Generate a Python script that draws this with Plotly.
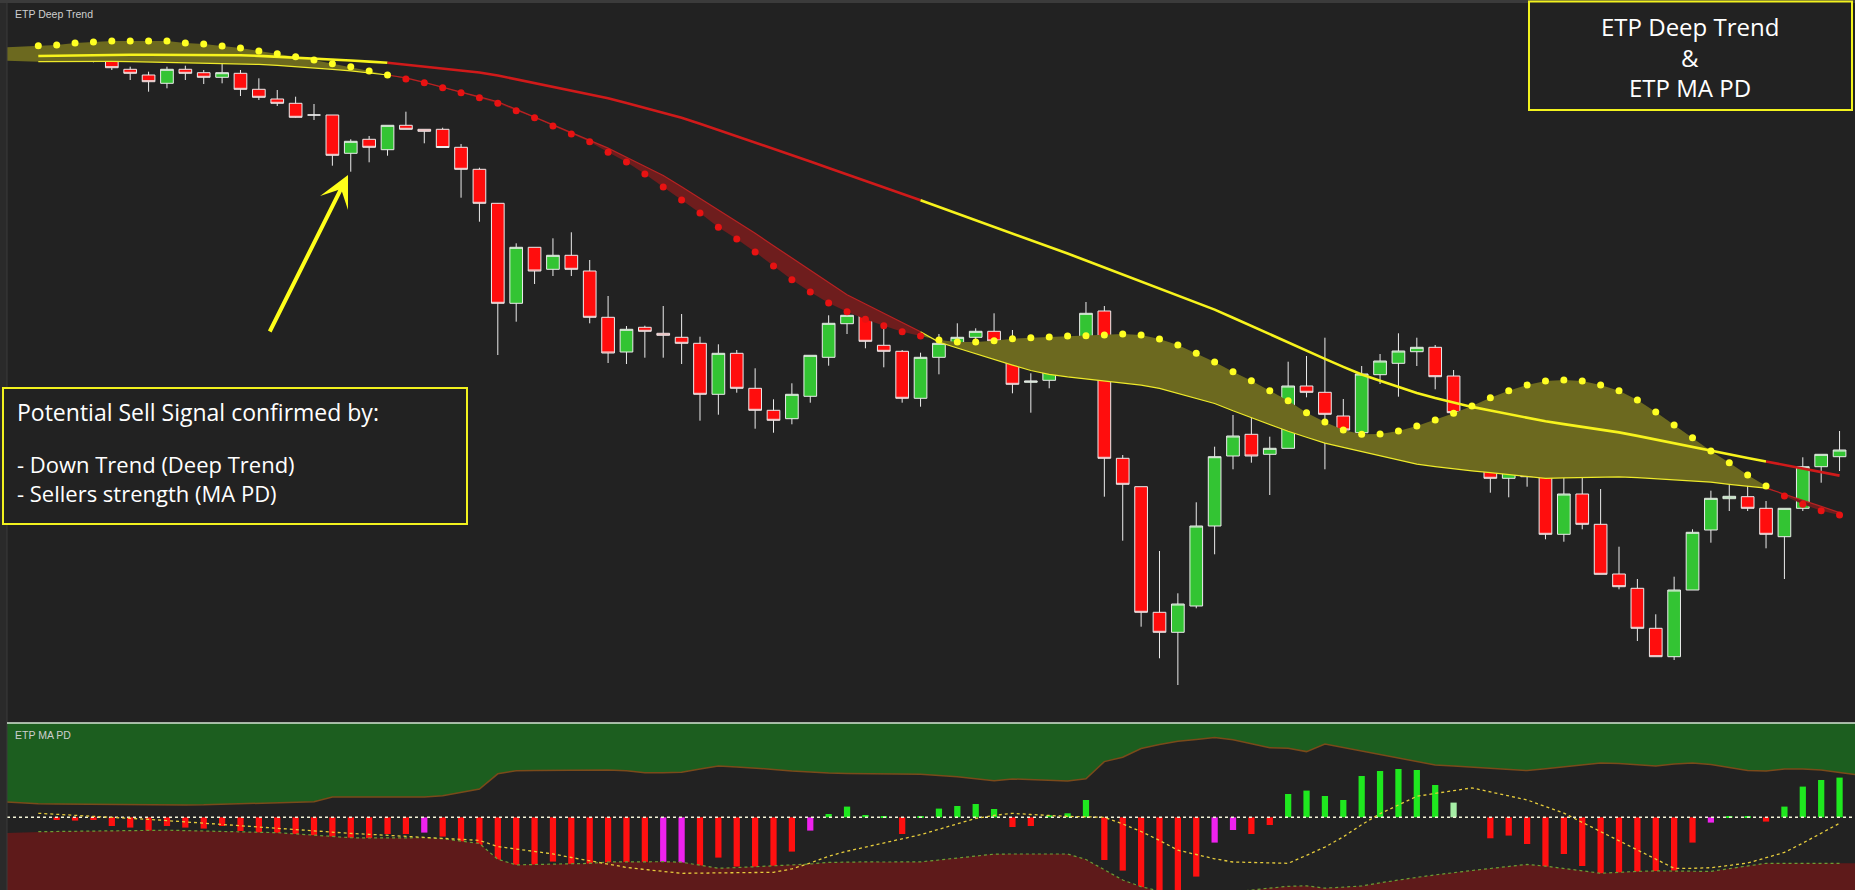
import plotly.graph_objects as go

# ---------------- data ----------------
n = 99
idx = list(range(n))

open_ = [702.5, 696.7, 692.7, 692.7, 693.3, 680.7, 675.0, 666.7, 680.7, 677.3,
         672.7, 676.7, 660.7, 651.0, 646.7, 635.0, 635.0, 596.7, 610.7, 600.3,
         624.7, 620.7, 620.7, 602.7, 580.7, 546.7, 446.7, 502.7, 480.7, 494.7,
         479.0, 432.7, 398.0, 422.7, 416.7, 412.7, 406.7, 355.7, 396.7, 361.7,
         339.7, 331.3, 353.7, 392.7, 426.3, 434.7, 404.7, 398.7, 351.7, 392.7,
         404.7, 412.7, 418.7, 408.7, 367.7, 369.7, 398.7, 402.7, 439.0, 291.7,
         263.3, 137.7, 117.7, 144.0, 224.0, 294.0, 315.7, 295.7, 301.7, 364.0,
         357.7, 334.0, 317.3, 375.3, 386.7, 398.3, 402.7, 374.0, 335.7, 314.0,
         271.7, 286.0, 276.0, 215.7, 256.0, 225.7, 176.0, 161.7, 121.7, 93.3,
         160.0, 220.0, 251.3, 253.3, 241.7, 213.3, 241.7, 283.3, 293.3]
high = [703.3, 699.0, 698.3, 696.7, 695.0, 683.3, 678.3, 683.3, 684.3, 680.0,
        686.7, 680.0, 671.7, 660.0, 653.3, 646.0, 635.0, 610.7, 614.0, 624.7,
        638.3, 620.7, 622.3, 606.0, 582.3, 547.0, 506.7, 502.7, 511.7, 517.7,
        490.0, 454.0, 424.0, 424.3, 444.0, 436.0, 413.3, 405.7, 400.0, 381.7,
        350.7, 366.7, 394.7, 434.7, 451.7, 445.0, 434.0, 400.0, 397.3, 416.0,
        426.7, 421.7, 436.7, 420.0, 376.7, 401.7, 412.7, 448.0, 444.0, 295.0,
        263.3, 199.0, 156.7, 247.7, 303.3, 335.0, 335.0, 313.3, 388.3, 394.0,
        412.3, 351.0, 384.0, 396.0, 416.7, 412.3, 405.0, 380.0, 345.0, 314.0,
        296.7, 296.7, 286.7, 278.3, 276.7, 261.0, 203.3, 171.0, 135.7, 173.3,
        220.7, 259.3, 265.0, 265.0, 249.0, 241.7, 292.7, 295.7, 319.0]
low = [696.7, 690.7, 688.0, 687.7, 680.0, 670.0, 658.3, 661.7, 670.0, 666.0,
       666.7, 654.0, 650.0, 644.0, 632.3, 630.0, 584.3, 578.3, 587.7, 594.3,
       620.7, 606.7, 602.5, 552.3, 528.3, 395.0, 428.3, 466.0, 474.0, 474.0,
       426.7, 387.0, 386.0, 392.3, 392.3, 386.0, 329.3, 335.3, 357.3, 321.3,
       317.3, 325.7, 347.3, 384.3, 416.0, 401.7, 382.7, 347.3, 343.3, 375.7,
       403.3, 398.3, 409.0, 356.7, 337.3, 361.7, 386.0, 390.7, 253.3, 209.3,
       123.3, 91.7, 65.0, 141.7, 195.7, 280.7, 287.3, 255.0, 301.7, 352.7,
       280.7, 305.7, 310.0, 366.0, 353.3, 384.0, 360.7, 329.3, 306.0, 257.3,
       252.7, 263.3, 210.7, 208.3, 220.7, 175.7, 160.7, 109.0, 93.3, 90.0,
       160.0, 207.3, 239.0, 239.0, 201.7, 171.0, 239.0, 267.3, 279.0]
close = [698.3, 694.0, 692.7, 692.7, 682.3, 676.7, 668.3, 680.7, 676.7, 672.7,
         677.3, 660.7, 652.7, 646.7, 632.7, 635.0, 594.7, 608.7, 602.7, 624.7,
         620.7, 618.7, 602.5, 580.7, 546.7, 446.7, 502.7, 479.0, 494.7, 480.7,
         432.7, 397.0, 420.7, 418.7, 414.7, 406.7, 355.7, 396.7, 361.7, 339.7,
         329.7, 355.7, 394.7, 426.7, 434.7, 408.7, 398.7, 351.7, 392.7, 406.7,
         412.7, 418.7, 409.0, 365.7, 369.0, 398.7, 404.7, 436.7, 291.7, 265.7,
         137.7, 117.7, 146.0, 224.0, 293.3, 314.0, 294.0, 301.7, 364.0, 357.7,
         335.7, 320.0, 376.0, 389.0, 399.0, 402.7, 373.3, 337.3, 313.3, 271.7,
         286.0, 273.3, 215.7, 256.0, 225.7, 175.7, 163.3, 121.7, 93.3, 160.0,
         217.7, 251.7, 253.7, 241.7, 215.7, 241.7, 283.3, 295.7, 300.0]

# Deep Trend: fast line (dots), band edge line, slow line
fast = [704.3, 705.0, 707.0, 708.0, 709.0, 709.0, 709.0, 709.0, 707.0, 706.0,
        704.0, 702.0, 699.0, 696.3, 693.3, 690.0, 686.3, 683.3, 679.0, 675.0,
        671.0, 667.3, 662.3, 657.3, 652.3, 646.7, 639.3, 632.3, 624.0, 616.0,
        608.3, 597.7, 588.0, 576.0, 563.0, 550.0, 537.0, 522.7, 511.0, 498.0,
        484.0, 470.3, 458.0, 447.0, 438.3, 430.7, 424.3, 418.3, 414.0, 410.0,
        408.0, 408.0, 409.3, 411.3, 412.3, 413.0, 414.0, 414.3, 415.0, 416.0,
        415.0, 411.0, 405.0, 396.7, 388.0, 378.3, 369.3, 359.3, 349.3, 337.3,
        328.0, 320.0, 315.7, 316.0, 319.0, 324.0, 330.0, 336.7, 344.0, 352.3,
        359.3, 365.0, 369.0, 370.0, 369.0, 365.0, 359.3, 350.0, 338.0, 325.0,
        312.3, 299.0, 287.3, 275.0, 264.0, 254.0, 245.7, 239.3, 235.0]
band = [688.3, 688.5, 688.7, 688.8, 688.7, 688.4, 688.0, 687.7, 687.4, 687.1,
        686.8, 686.4, 685.6, 684.6, 683.5, 682.2, 680.7, 679.1, 677.2, 675.0,
        672.1, 667.7, 662.6, 657.9, 653.2, 648.3, 640.6, 632.8, 625.1, 617.4,
        609.6, 601.9, 592.8, 583.6, 574.6, 563.2, 551.6, 539.9, 528.3, 516.7,
        504.3, 491.9, 479.5, 467.2, 455.3, 446.0, 436.8, 427.5, 418.2, 407.9,
        402.0, 396.1, 390.3, 384.9, 379.5, 375.7, 373.1, 371.2, 369.4, 367.2,
        364.9, 361.6, 356.6, 351.5, 346.5, 339.2, 332.3, 325.5, 318.7, 312.8,
        306.9, 302.6, 298.3, 293.9, 289.5, 285.8, 283.4, 281.1, 279.1, 277.3,
        275.4, 273.5, 271.7, 272.1, 272.5, 272.9, 273.2, 272.4, 271.3, 270.3,
        269.1, 267.8, 265.7, 263.7, 261.9, 256.0, 249.8, 243.6, 237.4]
slow = [694.0, 694.4, 694.8, 695.1, 695.3, 695.3, 695.3, 695.3, 695.3, 695.2,
        695.1, 694.7, 694.1, 693.3, 692.5, 691.5, 690.5, 689.5, 688.4, 687.3,
        685.4, 683.4, 681.5, 679.5, 677.5, 674.5, 670.7, 666.9, 663.1, 659.3,
        655.6, 651.8, 646.9, 642.0, 637.1, 632.2, 626.2, 620.0, 613.9, 607.7,
        601.5, 595.0, 588.5, 582.1, 575.6, 569.2, 562.7, 556.3, 549.8, 543.2,
        536.6, 529.9, 523.3, 516.7, 510.0, 503.4, 496.5, 489.5, 482.5, 475.5,
        468.5, 461.4, 454.4, 447.4, 440.4, 432.3, 423.9, 415.5, 407.1, 399.1,
        391.1, 383.1, 375.5, 369.3, 363.1, 356.9, 351.9, 347.5, 343.1, 339.5,
        335.9, 332.3, 328.7, 325.9, 323.2, 320.4, 317.6, 314.1, 310.3, 306.5,
        302.8, 299.1, 295.5, 292.0, 288.5, 285.0, 281.4, 277.9, 274.4]
fast_lead, band_lead = 702.5, 689.5

# MA PD panel
hist = [0, -2.7, -3.3, -2.7, -8.7, -10.3, -13.7, -8.7, -10.3, -11.3,
        -8.7, -13.7, -16, -17.3, -22.7, -19.3, -34.3, -27.7, -27.7, -16.7,
        -16.7, -15.3, -19.3, -26, -38.7, -85, -49.3, -57.7, -44.3, -49.3,
        -64.3, -85, -60.3, -52.7, -50, -48.3, -63.3, -40.3, -49.3, -52,
        -49.3, -34.3, -13.3, 3.3, 10.7, 2.3, 0.7, -16.7, 1.3, 8.7,
        11.3, 13.3, 8.3, -9.7, -8.7, 2, 4, 17.3, -42.7, -53.3,
        -85, -85, -85, -59.3, -25.3, -12.7, -16.7, -7.7, 23.3, 26.7,
        21.3, 17.3, 41.3, 46.3, 48.3, 47.3, 32.3, 14.7, 0, -21,
        -18.3, -26.7, -52, -36.7, -48.7, -67, -69.3, -85, -85, -53.3,
        -25.3, -5.3, 1.3, 1.3, -4.3, 10.7, 30.7, 37.3, 39.7]
hist_state = (['dn'] * 21 + ['dw'] + ['dn'] * 12 + ['dw', 'dw'] + ['dn'] * 6 + ['dw']
              + ['up'] * 4 + ['dn'] + ['up'] * 5 + ['dn'] * 2 + ['up'] * 3 + ['dn'] * 6
              + ['dw', 'dw'] + ['dn'] * 2 + ['up'] * 9 + ['uw', 'up'] + ['dn'] * 12
              + ['dw'] + ['up'] * 2 + ['dn'] + ['up'] * 4)
signal = [4, 3.1, 2.2, 1.2, 0.3, -0.8, -2.1, -3.3, -4.6, -5.8,
          -7.2, -8.6, -10, -11.4, -12.8, -14.2, -15.2, -16.1, -17, -18,
          -18.9, -19.8, -20.8, -21.8, -23.1, -29.3, -31.8, -34.2, -36.6, -40.2,
          -43.7, -47.2, -50.1, -52.2, -54.2, -56, -55.8, -55.6, -55.4, -55.2,
          -55, -51.6, -45.7, -38.9, -33.9, -29.8, -25.8, -21.8, -17.4, -12,
          -6.5, -1.1, 1.9, 4, 2.8, 1.6, 0.9, 0.5, 0, -6.7,
          -14.2, -23.1, -32.9, -37.2, -41.5, -44.7, -45.2, -45.6, -46, -38,
          -29.8, -19.5, -7.4, 3.6, 12.7, 21, 23.9, 26.8, 29.4, 25.4,
          21.4, 17.4, 10.8, 4.2, -5.1, -14.2, -23, -32.1, -41.4, -51,
          -51, -50.4, -48.1, -45.7, -40.4, -35.1, -25.8, -15.9, -6]
lower = [-14.4, -14.1, -13.9, -13.6, -13.4, -13.1, -12.8, -12.9, -13.3, -13.7,
         -14.1, -14.6, -15, -15.4, -16.6, -17.9, -19.1, -20.4, -20.7, -20.6,
         -20.5, -20.4, -21.4, -23.8, -26.2, -42, -47.6, -47.2, -46.8, -46.5,
         -46.1, -44.7, -44.4, -44.4, -44.4, -44.9, -47.8, -51, -50.3, -49.5,
         -48.7, -47.9, -46.7, -45.1, -44.5, -44.6, -44.7, -44.9, -44.6, -42.7,
         -40.7, -38.8, -36.8, -36.7, -36.7, -36.7, -36.7, -42.2, -52.8, -62.7,
         -69.4, -73.7, -76.7, -77.7, -76.7, -74.7, -72.2, -70.8, -69, -68.5,
         -70.9, -69.9, -68.7, -65.5, -62.6, -60.1, -57.6, -55.2, -53.2, -51.2,
         -49.1, -47.1, -48.9, -50.9, -53.5, -56, -54.8, -54.1, -53.6, -53.6,
         -54.1, -54.1, -51.3, -48.6, -46, -46, -46, -46, -46]
upper = [13.6, 13.4, 13.2, 12.9, 12.7, 12.6, 12.6, 12.5, 12.4, 12.5,
         13.1, 13.6, 14.1, 14.7, 15.2, 15.6, 20.3, 20.3, 20.3, 20.3,
         20.3, 20.3, 21.5, 24.5, 28.2, 43.5, 46.6, 46.7, 46.8, 47,
         47.1, 47.3, 46.6, 44.5, 44.5, 45, 48.2, 51.3, 50.4, 49.4,
         47.9, 46.2, 45.1, 44.3, 43.9, 43.7, 43.5, 43.4, 43, 41.7,
         40.6, 38.6, 36.6, 38.3, 37.9, 37.2, 36.4, 38.6, 55.7, 60,
         68.8, 72.8, 76.1, 77.9, 79.8, 77.5, 73.5, 69.6, 69, 65.7,
         73.3, 69.9, 66.4, 62.7, 59.3, 55.9, 52.3, 51.3, 50.2, 49.1,
         47.9, 46.7, 48.6, 50.6, 52.4, 54.2, 53.7, 52.5, 51.4, 53.2,
         54.2, 52.8, 49.9, 46.7, 46.3, 48.3, 48.3, 47.3, 44.7]
upper_lead, upper_tail = 15.6, 42.3
lower_lead, lower_tail = -16.0, -46.0

# ---------------- styling ----------------
BG = '#222222'
YEL = '#f7f31c'
RED = '#d01a1a'
DOT_Y = '#ffff22'
DOT_R = '#e81212'
FILL_Y = '#6c691f'
FILL_R = '#6e1d1d'
HIST_COL = {'dn': '#ff1010', 'up': '#1fe81f', 'dw': '#ee22ee', 'uw': '#a6eea6'}

W, H = 1855, 890
ML = 7
PW = W - ML
X0 = -1.703   # left edge of the plot, in candle index
X1 = 98.84
SPLIT = 167 / 890.0
TOP = 887 / 890.0

up = [f >= b for f, b in zip(fast, band)]
runs = []
s = 0
for i in range(1, n + 1):
    if i == n or up[i] != up[s]:
        runs.append((s, i - 1, up[s]))
        s = i

fig = go.Figure()

# band fills
for (a, b, u) in runs:
    seg = list(range(a - 1 if a > 0 else 0, b + 1))
    xs = list(seg)
    yb = [band[k] for k in seg]
    yf = [fast[k] for k in seg]
    if a == 0:
        xs = [-2] + xs
        yb = [band_lead] + yb
        yf = [fast_lead] + yf
    fig.add_trace(go.Scatter(x=xs, y=yb, mode='lines', line=dict(width=0),
                             hoverinfo='skip', showlegend=False))
    fig.add_trace(go.Scatter(x=xs, y=yf, mode='lines', line=dict(width=0),
                             fill='tonexty', fillcolor=FILL_Y if u else FILL_R,
                             hoverinfo='skip', showlegend=False))

# candles
fig.add_trace(go.Candlestick(
    x=idx, open=open_, high=high, low=low, close=close,
    increasing=dict(fillcolor='#33c433', line=dict(color='#ececec', width=1)),
    decreasing=dict(fillcolor='#ff0d0d', line=dict(color='#ececec', width=1)),
    whiskerwidth=0, showlegend=False, hoverinfo='skip'))

# band edge lines and slow line
for (a, b, u) in runs:
    seg = list(range(a - 1 if a > 0 else 0, b + 1))
    fig.add_trace(go.Scatter(x=seg, y=[band[k] for k in seg], mode='lines',
                             line=dict(color='#eeea2a' if u else '#b82222', width=1.2),
                             hoverinfo='skip', showlegend=False))
for (a, b, u) in runs:
    seg = list(range(a - 1 if a > 0 else 0, b + 1))
    fig.add_trace(go.Scatter(x=seg, y=[slow[k] for k in seg], mode='lines',
                             line=dict(color=YEL if u else RED, width=2.6),
                             hoverinfo='skip', showlegend=False))

# fast dots
fig.add_trace(go.Scatter(x=idx, y=fast, mode='markers',
                         marker=dict(size=7, color=[DOT_Y if u else DOT_R for u in up]),
                         hoverinfo='skip', showlegend=False))

# ---------------- lower panel ----------------
xe = [-2] + idx + [99]
fig.add_trace(go.Scatter(x=xe, y=[200] * len(xe), yaxis='y2', mode='lines',
                         line=dict(width=0), hoverinfo='skip', showlegend=False))
fig.add_trace(go.Scatter(x=xe, y=[upper_lead] + upper + [upper_tail], yaxis='y2',
                         mode='lines', line=dict(color='#7a4a1a', width=1.5),
                         fill='tonexty', fillcolor='#1c5e1f',
                         hoverinfo='skip', showlegend=False))
fig.add_trace(go.Scatter(x=xe, y=[-200] * len(xe), yaxis='y2', mode='lines',
                         line=dict(width=0), hoverinfo='skip', showlegend=False))
fig.add_trace(go.Scatter(x=xe, y=[lower_lead] + lower + [lower_tail], yaxis='y2',
                         mode='lines', line=dict(width=0),
                         fill='tonexty', fillcolor='#5e1a1a',
                         hoverinfo='skip', showlegend=False))

fig.add_trace(go.Bar(x=idx, y=hist, yaxis='y2', width=0.34,
                     marker=dict(color=[HIST_COL[s_] for s_ in hist_state], line=dict(width=0)),
                     hoverinfo='skip', showlegend=False))

fig.add_trace(go.Scatter(x=[X0, X1], y=[0, 0], yaxis='y2', mode='lines',
                         line=dict(color='#f4f4d8', width=1.5, dash='dot'),
                         hoverinfo='skip', showlegend=False))
fig.add_trace(go.Scatter(x=idx, y=lower, yaxis='y2', mode='lines',
                         line=dict(color='#6c9c34', width=1.2, dash='dot'),
                         hoverinfo='skip', showlegend=False))
fig.add_trace(go.Scatter(x=idx, y=signal, yaxis='y2', mode='lines',
                         line=dict(color='#e6cc3c', width=1.3, dash='dot'),
                         hoverinfo='skip', showlegend=False))


def px(xf):
    return (xf - ML) / PW


def py(yf):
    return 1 - yf / H


shapes = [
    dict(type='rect', xref='paper', yref='paper', x0=-0.01, x1=1.01, y0=TOP, y1=1.01,
         fillcolor='#3b3b3b', line=dict(width=0), layer='below'),
    dict(type='line', xref='paper', yref='paper', x0=0, x1=0, y0=0, y1=TOP,
         line=dict(color='#3a3a3a', width=1)),
    dict(type='line', xref='paper', yref='paper', x0=0, x1=1, y0=SPLIT, y1=SPLIT,
         line=dict(color='#d6e6d6', width=1.5)),
    dict(type='rect', xref='paper', yref='paper', x0=px(1529), x1=px(1852),
         y0=py(110), y1=py(1.5), line=dict(color='#f2f21e', width=2), fillcolor=BG),
    dict(type='rect', xref='paper', yref='paper', x0=px(3), x1=px(467),
         y0=py(524), y1=py(388), line=dict(color='#f2f21e', width=2), fillcolor=BG),
]

TF = '"Open Sans", Lato, sans-serif'
ann = [
    dict(text='ETP Deep Trend', x=px(13), y=py(13.5), xanchor='left', yanchor='middle',
         font=dict(family='Liberation Sans, Arial', size=10.5, color='#cfcfcf')),
    dict(text='ETP MA PD', x=px(13), y=py(735), xanchor='left', yanchor='middle',
         font=dict(family='Liberation Sans, Arial', size=10.5, color='#cfcfcf')),
    dict(text='ETP Deep Trend', x=px(1690), y=py(26.5), xanchor='center', yanchor='middle',
         font=dict(family=TF, size=24, color='#ffffff')),
    dict(text='&amp;', x=px(1690), y=py(57.5), xanchor='center', yanchor='middle',
         font=dict(family=TF, size=24, color='#ffffff')),
    dict(text='ETP MA PD', x=px(1690), y=py(87.5), xanchor='center', yanchor='middle',
         font=dict(family=TF, size=24, color='#ffffff')),
    dict(text='Potential Sell Signal confirmed by:', x=px(15), y=py(412), xanchor='left',
         yanchor='middle', font=dict(family=TF, size=23, color='#ffffff')),
    dict(text='- Down Trend (Deep Trend)<br>- Sellers strength (MA PD)', x=px(15), y=py(478),
         xanchor='left', yanchor='middle', align='left',
         font=dict(family=TF, size=22, color='#ffffff')),
]
for a_ in ann:
    a_.update(xref='paper', yref='paper', showarrow=False)

ann.append(dict(x=16.85, y=575, xref='x', yref='y', text='', showarrow=True,
                ax=-79, ay=158, arrowhead=3, arrowsize=1.3, arrowwidth=4,
                arrowcolor='#ffff1a', standoff=0))

fig.update_layout(
    width=W, height=H,
    margin=dict(l=ML, r=0, t=0, b=0),
    paper_bgcolor='#2a2a2a', plot_bgcolor=BG,
    showlegend=False, hovermode=False,
    boxgap=0.31, boxgroupgap=0,
    xaxis=dict(range=[X0, X1], visible=False, showgrid=False, zeroline=False,
               rangeslider=dict(visible=False), anchor='y', fixedrange=True),
    yaxis=dict(domain=[SPLIT, TOP], range=[27, 747], visible=False, showgrid=False,
               zeroline=False, fixedrange=True),
    yaxis2=dict(domain=[0, SPLIT], range=[-72.7, 94.3], visible=False, showgrid=False,
                zeroline=False, anchor='x', fixedrange=True),
    shapes=shapes, annotations=ann,
)

fig.write_html('out.html')
